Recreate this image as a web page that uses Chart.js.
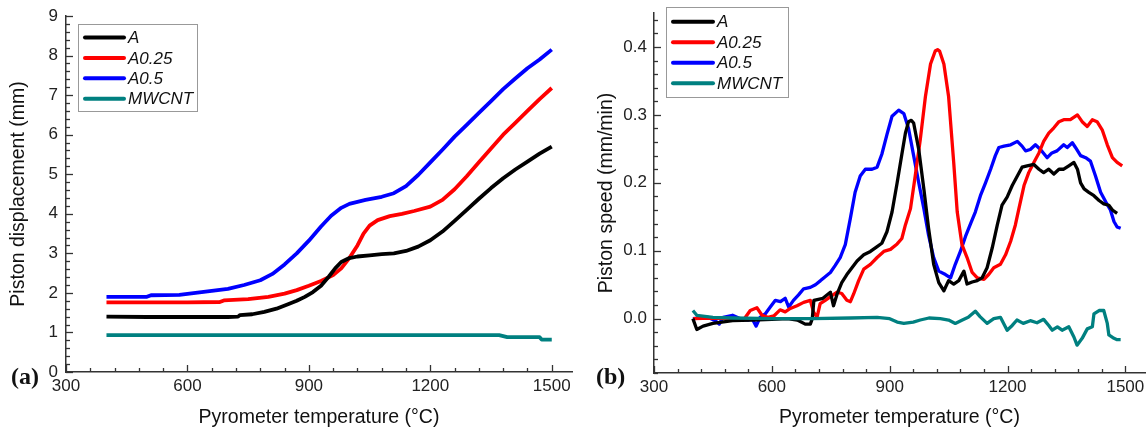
<!DOCTYPE html>
<html>
<head>
<meta charset="utf-8">
<title>Piston displacement and speed</title>
<script src="https://cdn.jsdelivr.net/npm/chart.js@4.4.1/dist/chart.umd.min.js"></script>
<style>
  body { margin: 0; background: #fff; }
  #panel-a { position: absolute; left: 0; top: 0; }
  #panel-b { position: absolute; left: 580px; top: 0; }
</style>
</head>
<body>
<canvas id="panel-a" width="580" height="429"></canvas>
<canvas id="panel-b" width="568" height="429"></canvas>
<script>
// nombres y colores de las series
const etiquetas = ["A", "A0.25", "A0.5", "MWCNT"];
const colores = ["#000000", "#ff0000", "#0000ff", "#008080"];

// (a) piston displacement (mm) vs temperatura
const despA_T = [400, 500, 600, 700, 725, 730, 760, 790, 820, 850, 870, 890, 910, 930, 950, 965, 980, 1000, 1020, 1050, 1080, 1110, 1140, 1170, 1200, 1230, 1260, 1290, 1320, 1350, 1380, 1410, 1440, 1470, 1500];
const despA = [1.40, 1.39, 1.39, 1.39, 1.40, 1.44, 1.46, 1.52, 1.60, 1.72, 1.80, 1.90, 2.02, 2.18, 2.42, 2.62, 2.78, 2.88, 2.92, 2.95, 2.98, 3.00, 3.06, 3.17, 3.33, 3.55, 3.82, 4.10, 4.38, 4.65, 4.90, 5.12, 5.32, 5.52, 5.70];
const despA025_T = [400, 500, 600, 680, 690, 750, 800, 840, 870, 900, 930, 960, 980, 1000, 1020, 1035, 1050, 1070, 1100, 1130, 1160, 1200, 1230, 1260, 1290, 1320, 1350, 1380, 1410, 1440, 1470, 1500];
const despA025 = [1.76, 1.76, 1.76, 1.77, 1.81, 1.84, 1.90, 1.98, 2.07, 2.18, 2.30, 2.45, 2.62, 2.88, 3.20, 3.50, 3.70, 3.84, 3.94, 4.00, 4.07, 4.18, 4.35, 4.62, 4.95, 5.30, 5.65, 6.00, 6.30, 6.60, 6.90, 7.18];
const despA05_T = [400, 500, 510, 580, 620, 660, 700, 740, 780, 810, 840, 870, 900, 930, 955, 980, 1000, 1040, 1080, 1110, 1140, 1170, 1200, 1230, 1260, 1290, 1320, 1350, 1380, 1410, 1440, 1470, 1500];
const despA05 = [1.90, 1.90, 1.94, 1.95, 2.00, 2.05, 2.10, 2.20, 2.32, 2.48, 2.72, 3.00, 3.32, 3.68, 3.95, 4.15, 4.25, 4.35, 4.43, 4.52, 4.70, 4.98, 5.30, 5.62, 5.95, 6.25, 6.55, 6.85, 7.15, 7.42, 7.68, 7.90, 8.15];
const despMW_T = [400, 700, 1000, 1370, 1390, 1470, 1475, 1500];
const despMW = [0.93, 0.93, 0.93, 0.93, 0.88, 0.88, 0.82, 0.82];

// (b) piston speed (mm/min) vs temperatura
const velA_T = [399, 409, 425, 450, 500, 550, 600, 640, 665, 685, 698, 703, 707, 730, 749, 757, 766, 778, 791, 804, 817, 834, 851, 868, 880, 893, 906, 919, 931, 940, 948, 955, 961, 974, 987, 999, 1012, 1025, 1038, 1050, 1063, 1076, 1089, 1097, 1110, 1123, 1135, 1148, 1161, 1174, 1186, 1199, 1212, 1225, 1237, 1250, 1267, 1280, 1292, 1305, 1318, 1331, 1343, 1356, 1369, 1378, 1386, 1395, 1407, 1420, 1433, 1445, 1458, 1467, 1479];
const velA = [0, -0.016, -0.011, -0.007, -0.003, -0.002, -0.001, 0, -0.002, -0.008, -0.008, 0.0, 0.027, 0.03, 0.039, 0.019, 0.036, 0.053, 0.065, 0.075, 0.085, 0.094, 0.099, 0.106, 0.111, 0.128, 0.157, 0.2, 0.242, 0.273, 0.29, 0.292, 0.288, 0.249, 0.191, 0.133, 0.08, 0.053, 0.041, 0.056, 0.051, 0.056, 0.07, 0.051, 0.054, 0.056, 0.06, 0.075, 0.104, 0.138, 0.167, 0.179, 0.196, 0.21, 0.223, 0.225, 0.227, 0.22, 0.215, 0.22, 0.213, 0.22, 0.22, 0.225, 0.23, 0.22, 0.2, 0.191, 0.186, 0.181, 0.174, 0.169, 0.167, 0.16, 0.155];
const velA025_T = [400, 450, 500, 530, 545, 562, 575, 590, 605, 621, 634, 647, 664, 681, 698, 706, 715, 723, 736, 753, 766, 778, 791, 800, 808, 821, 834, 851, 868, 885, 902, 919, 931, 940, 953, 965, 978, 991, 1004, 1016, 1022, 1027, 1038, 1050, 1063, 1072, 1084, 1097, 1110, 1123, 1140, 1152, 1165, 1182, 1195, 1208, 1220, 1229, 1242, 1254, 1267, 1280, 1292, 1305, 1318, 1331, 1343, 1360, 1378, 1390, 1403, 1416, 1428, 1441, 1454, 1467, 1479, 1492];
const velA025 = [0, 0.001, 0, 0, 0.012, 0.016, 0.005, 0.002, 0.004, 0.013, 0.01, 0.015, 0.019, 0.024, 0.027, 0.01, 0.002, 0.022, 0.027, 0.034, 0.039, 0.037, 0.027, 0.025, 0.036, 0.056, 0.073, 0.08, 0.09, 0.099, 0.102, 0.11, 0.118, 0.138, 0.162, 0.21, 0.264, 0.327, 0.375, 0.394, 0.396, 0.394, 0.375, 0.327, 0.23, 0.157, 0.109, 0.09, 0.068, 0.06, 0.058, 0.065, 0.075, 0.08, 0.094, 0.114, 0.138, 0.162, 0.196, 0.215, 0.23, 0.244, 0.261, 0.273, 0.281, 0.29, 0.293, 0.293, 0.3, 0.29, 0.283, 0.293, 0.29, 0.278, 0.256, 0.237, 0.23, 0.225];
const velA05_T = [399, 420, 437, 456, 466, 476, 500, 520, 540, 550, 560, 570, 583, 596, 609, 622, 634, 643, 655, 668, 681, 698, 711, 724, 732, 749, 761, 774, 787, 800, 812, 825, 838, 855, 868, 880, 893, 906, 923, 936, 948, 961, 974, 987, 999, 1012, 1025, 1042, 1055, 1067, 1080, 1093, 1106, 1118, 1131, 1144, 1157, 1169, 1178, 1191, 1208, 1225, 1237, 1246, 1258, 1271, 1284, 1301, 1313, 1326, 1343, 1352, 1365, 1373, 1386, 1399, 1411, 1424, 1437, 1450, 1462, 1471, 1479, 1488];
const velA05 = [0, 0.001, 0.002, -0.003, -0.008, 0.002, 0.005, 0, -0.002, 0, -0.011, 0.002, 0.007, 0.017, 0.027, 0.025, 0.03, 0.017, 0.027, 0.035, 0.044, 0.046, 0.05, 0.056, 0.06, 0.068, 0.078, 0.09, 0.109, 0.148, 0.186, 0.21, 0.22, 0.22, 0.223, 0.242, 0.271, 0.298, 0.307, 0.302, 0.28, 0.24, 0.2, 0.162, 0.123, 0.09, 0.07, 0.065, 0.06, 0.08, 0.099, 0.121, 0.14, 0.157, 0.181, 0.2, 0.22, 0.24, 0.252, 0.254, 0.256, 0.261, 0.254, 0.247, 0.249, 0.256, 0.249, 0.237, 0.244, 0.247, 0.256, 0.252, 0.259, 0.252, 0.24, 0.237, 0.232, 0.21, 0.186, 0.172, 0.16, 0.143, 0.135, 0.133];
const velMW_T = [399, 409, 450, 500, 600, 700, 800, 868, 900, 919, 936, 960, 978, 1000, 1029, 1050, 1067, 1085, 1100, 1118, 1130, 1148, 1165, 1182, 1199, 1212, 1224, 1240, 1258, 1275, 1292, 1305, 1314, 1327, 1339, 1356, 1369, 1377, 1390, 1403, 1416, 1420, 1433, 1445, 1454, 1458, 1471, 1479, 1488];
const velMW = [0.012, 0.005, 0.002, 0.001, 0, 0, 0.001, 0.002, 0, -0.005, -0.007, -0.005, -0.002, 0.001, 0, -0.002, -0.007, -0.002, 0.002, 0.011, 0.003, -0.007, 0, 0.002, -0.017, -0.01, -0.002, -0.007, -0.003, -0.006, -0.001, -0.01, -0.017, -0.012, -0.017, -0.012, -0.027, -0.039, -0.029, -0.015, -0.012, 0.007, 0.012, 0.012, -0.007, -0.024, -0.029, -0.031, -0.031];

// ticks de los ejes
const tempTicks = [300, 600, 900, 1200, 1500];
const despTicks = [0, 1, 2, 3, 4, 5, 6, 7, 8, 9];
const velTicks = [0.0, 0.1, 0.2, 0.3, 0.4];

const fuente = "'Liberation Sans', Arial, sans-serif";

function puntos(ts, vs) {
  return ts.map((t, i) => ({ x: t, y: vs[i] }));
}

//plugin que dibuja ticks menores/mayores hacia adentro, la leyenda y la letra del panel
const extrasPlugin = {
  id: "extras",
  afterDraw(chart, args, o) {
    const ctx = chart.ctx;
    const sx = chart.scales.x;
    const sy = chart.scales.y;
    const area = chart.chartArea;
    ctx.save();
    ctx.strokeStyle = "#333";
    ctx.lineWidth = 1.3;
    // ticks eje x
    for (let i = 0; ; i++) {
      const v = sx.min + i * o.xMinor;
      if (v > sx.max) break;
      const px = Math.round(sx.getPixelForValue(v)) + 0.5;
      const largo = i % o.xCada === 0 ? 7 : 4;
      ctx.beginPath();
      ctx.moveTo(px, area.bottom);
      ctx.lineTo(px, area.bottom - largo);
      ctx.stroke();
    }
    // ticks eje y
    for (let i = 0; ; i++) {
      const v = o.yStart + i * o.yMinor;
      if (v > sy.max + 1e-9) break;
      const py = Math.round(sy.getPixelForValue(v)) + 0.5;
      const mayor = Math.abs(Math.round(v / o.yMajor) * o.yMajor - v) < 1e-6;
      ctx.beginPath();
      ctx.moveTo(area.left, py);
      ctx.lineTo(area.left + (mayor ? 7 : 4), py);
      ctx.stroke();
    }
    // leyenda
    const b = o.caja;
    ctx.strokeStyle = "#999";
    ctx.lineWidth = 1;
    ctx.strokeRect(b[0] + 0.5, b[1] + 0.5, b[2], b[3]);
    ctx.font = "italic 17px " + fuente;
    ctx.textBaseline = "middle";
    ctx.textAlign = "left";
    chart.data.datasets.forEach((ds, i) => {
      const yy = o.fila0 + i * o.paso;
      ctx.strokeStyle = ds.borderColor;
      ctx.lineWidth = 4;
      ctx.lineCap = "round";
      ctx.beginPath();
      ctx.moveTo(o.linea[0], yy);
      ctx.lineTo(o.linea[1], yy);
      ctx.stroke();
      ctx.fillStyle = "#111";
      ctx.fillText(ds.label, o.textoX, yy + 1);
    });
    // letra del panel
    ctx.font = "bold 24px 'Liberation Serif', 'Times New Roman', serif";
    ctx.fillStyle = "#111";
    ctx.fillText(o.letra, o.letraX, 378);
    ctx.restore();
  },
};

//funcion que arma y renderiza cada panel
function renderPanel(canvasId, series, conf) {
  const datasets = series.map((s, i) => ({
    label: etiquetas[i],
    data: puntos(s[0], s[1]),
    borderColor: colores[i],
    borderWidth: conf.grosor,
    pointRadius: 0,
    borderJoinStyle: "round",
    // MWCNT encima de las demas
    order: i === 3 ? 0 : 1,
  }));
  const config = {
    type: "line",
    data: { datasets },
    options: {
      responsive: false,
      animation: false,
      layout: { padding: { top: conf.top, right: conf.right, left: 0, bottom: 0 } },
      plugins: {
        legend: { display: false },
        tooltip: { enabled: false },
        extras: conf.extras,
      },
      scales: {
        x: {
          type: "linear",
          min: 300,
          max: 1550,
          afterFit: (scale) => {
            scale.height = conf.xAlto;
            scale.paddingLeft = 0;
            scale.paddingRight = 0;
          },
          afterBuildTicks: (scale) => { scale.ticks = tempTicks.map((v) => ({ value: v })); },
          grid: { display: false, drawTicks: false },
          border: { display: true, color: "#333", width: 1.5 },
          ticks: {
            padding: 4,
            color: "#222",
            font: { family: fuente, size: 17 },
            autoSkip: false,
            callback: (v) => String(v),
          },
          title: {
            display: true,
            text: "Pyrometer temperature (°C)",
            color: "#111",
            font: { family: fuente, size: 19.5 },
            padding: 0,
          },
        },
        y: {
          type: "linear",
          min: conf.yMin,
          max: conf.yMax,
          afterFit: (scale) => {
            scale.width = conf.yAncho;
            scale.paddingTop = 0;
            scale.paddingBottom = 0;
          },
          afterBuildTicks: (scale) => { scale.ticks = conf.yTicks.map((v) => ({ value: v })); },
          grid: { display: false, drawTicks: false },
          border: { display: true, color: "#333", width: 1.5 },
          ticks: {
            padding: conf.yPad,
            color: "#222",
            font: { family: fuente, size: 17 },
            autoSkip: false,
            callback: conf.formato,
          },
          title: {
            display: true,
            text: conf.yTitulo,
            color: "#111",
            font: { family: fuente, size: 19.5 },
            padding: { top: conf.tituloPad, bottom: 0 },
          },
        },
      },
    },
    plugins: [extrasPlugin],
  };
  return new Chart(document.getElementById(canvasId), config);
}

renderPanel(
  "panel-a",
  [[despA_T, despA], [despA025_T, despA025], [despA05_T, despA05], [despMW_T, despMW]],
  {
    grosor: 3.8,
    top: 16,
    right: 8,
    xAlto: 57,
    yAncho: 66,
    yPad: 8,
    yMin: 0,
    yMax: 9,
    yTicks: despTicks,
    yTitulo: "Piston displacement (mm)",
    tituloPad: 7,
    formato: (v) => String(v),
    extras: {
      xMinor: 60, xCada: 5,
      yStart: 0, yMinor: 0.2, yMajor: 1,
      caja: [78, 24, 119, 87], fila0: 37.5, paso: 20.4,
      linea: [85, 124], textoX: 128,
      letra: "(a)", letraX: 11,
    },
  }
);

renderPanel(
  "panel-b",
  [[velA_T, velA], [velA025_T, velA025], [velA05_T, velA05], [velMW_T, velMW]],
  {
    grosor: 3.3,
    top: 13,
    right: 3,
    xAlto: 56,
    yAncho: 74,
    yPad: 7,
    yMin: -0.08,
    yMax: 0.45,
    yTicks: velTicks,
    yTitulo: "Piston speed (mm/min)",
    tituloPad: 15,
    formato: (v) => v.toFixed(1),
    extras: {
      xMinor: 60, xCada: 5,
      yStart: -0.08, yMinor: 0.02, yMajor: 0.1,
      caja: [86, 7, 122, 90], fila0: 21.7, paso: 20.5,
      linea: [93, 133], textoX: 137,
      letra: "(b)", letraX: 16,
    },
  }
);
</script>
</body>
</html>
